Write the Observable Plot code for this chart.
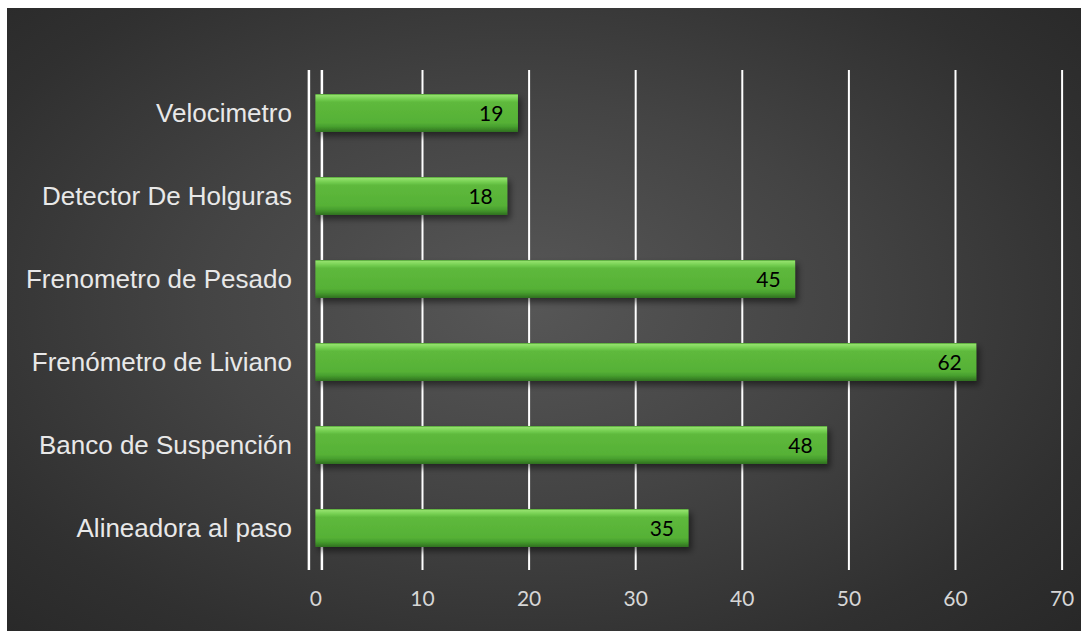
<!DOCTYPE html>
<html>
<head>
<meta charset="utf-8">
<script src="https://cdn.jsdelivr.net/npm/d3@7"></script>
<script src="https://cdn.jsdelivr.net/npm/@observablehq/plot@0.6"></script>
<style>
  html, body { margin: 0; padding: 0; background: #ffffff; }
  #panel {
    position: absolute; left: 7px; top: 8px; width: 1074px; height: 623px;
    background: radial-gradient(ellipse 75% 80% at 48% 47%, #575757 0%, #444444 40%, #303030 75%, #262626 100%);
  }
  #panel svg { display: block; }
</style>
</head>
<body>
<div id="panel"></div>
<script>
const categories = [
  "Velocimetro",
  "Detector De Holguras",
  "Frenometro de Pesado",
  "Frenómetro de Liviano",
  "Banco de Suspención",
  "Alineadora al paso"
];
const values = [19, 18, 45, 62, 48, 35];
const xTicks = [0, 10, 20, 30, 40, 50, 60, 70];

const data = categories.map((c, i) => ({category: c, value: values[i]}));

const chart = Plot.plot({
  width: 1074,
  height: 623,
  marginLeft: 308.4,
  marginRight: 19.4,
  marginTop: 62,
  marginBottom: 61,
  style: {background: "transparent", overflow: "visible"},
  x: {domain: [0, 70], ticks: xTicks},
  y: {domain: categories, paddingInner: 0.548, paddingOuter: 0.274},
  marks: [
    Plot.ruleX(xTicks.filter(d => d > 0), {stroke: "#ffffff", strokeWidth: 2}),
    Plot.ruleX([0], {stroke: "#ffffff", strokeWidth: 2.5, dx: -7}),
    Plot.ruleX([0], {stroke: "#ffffff", strokeWidth: 2.5, dx: 6}),
    Plot.barX(data, {
      x: "value", y: "category",
      fill: "url(#barGrad)",
      className: "bars"
    }),
    Plot.text(data, {
      x: "value", y: "category", text: d => String(d.value),
      textAnchor: "end", dx: -15, dy: 1,
      fill: "#000000", fontSize: 21, fontFamily: "Lato"
    }),
    Plot.axisX({
      ticks: xTicks, tickSize: 0, tickPadding: 21,
      fontSize: 21, fontFamily: "Lato", color: "#d6d6d6", label: null
    }),
    Plot.axisY({
      tickSize: 0, tickPadding: 24, fontSize: 26,
      fontFamily: "Liberation Sans, Arial, sans-serif", color: "#e8e8e8", label: null
    })
  ]
});

const svg = d3.select(chart);
const defs = svg.insert("defs", ":first-child");
const g = defs.append("linearGradient").attr("id", "barGrad")
  .attr("x1", 0).attr("y1", 0).attr("x2", 0).attr("y2", 1);
[
  [0, "#4c9e30"], [0.04, "#92e06c"], [0.12, "#78d154"], [0.22, "#5eb93c"],
  [0.75, "#56b136"], [0.86, "#479f2e"], [1, "#2f6f1f"]
].forEach(([o, c]) => g.append("stop").attr("offset", o).attr("stop-color", c));
const f = defs.append("filter").attr("id", "barShadow")
  .attr("x", "-5%").attr("y", "-30%").attr("width", "115%").attr("height", "170%");
f.append("feDropShadow").attr("dx", 3).attr("dy", 4).attr("stdDeviation", 3)
  .attr("flood-color", "#000").attr("flood-opacity", 0.5);
svg.selectAll("g.bars").attr("filter", "url(#barShadow)");

document.getElementById("panel").appendChild(chart);
</script>
</body>
</html>
